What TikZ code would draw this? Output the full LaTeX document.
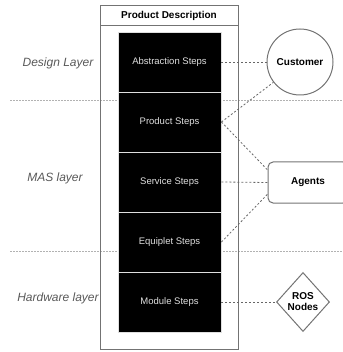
\documentclass[tikz,border=0pt]{standalone}
\usepackage{fontspec}
\setmainfont{Liberation Sans}
\usetikzlibrary{shapes.geometric,calc}
\begin{document}
\begin{tikzpicture}[x=1pt,y=-1pt,
  stepbox/.style={fill=black,draw=gray!25,line width=0.9pt,minimum width=103pt,minimum height=60pt,inner sep=0pt,text=white!88!black,font=\fontsize{9.5}{11}\selectfont},
  layerlabel/.style={font=\fontsize{12}{14}\selectfont\itshape,text=black!65},
  conn/.style={draw=black!60,line width=0.8pt,dash pattern=on 2pt off 2pt},
  layerline/.style={draw=black!30,line width=0.8pt,dash pattern=on 1.5pt off 1.5pt},
  framebox/.style={draw=black!55,line width=1pt}]
\useasboundingbox (0,0) rectangle (342,352);
% layer separators
\coordinate (l1a) at (10,100); \coordinate (l1b) at (342,100);
\coordinate (l2a) at (10,251); \coordinate (l2b) at (342,251);
\draw[layerline] (l1a) -- (l1b);
\draw[layerline] (l2a) -- (l2b);
% outer frame
\node[framebox,minimum width=138pt,minimum height=343pt,inner sep=0pt] (outer) at (169,177.5) {};
\node[framebox,minimum width=138pt,minimum height=20pt,inner sep=0pt,font=\fontsize{10}{12}\selectfont\bfseries] (head) at (169,16) {Product Description};
% steps
\node[stepbox] (abs) at (169.5,62) {Abstraction Steps};
\node[stepbox] (prod) at (169.5,122) {Product Steps};
\node[stepbox] (serv) at (169.5,182) {Service Steps};
\node[stepbox] (equ) at (169.5,242) {Equiplet Steps};
\node[stepbox] (mod) at (169.5,302) {Module Steps};
% right nodes
\node[circle,framebox,minimum size=66pt,inner sep=0pt,font=\fontsize{10}{12}\selectfont\bfseries] (cust) at (300,62) {Customer};
\node[framebox,rounded corners=5pt,minimum width=80pt,minimum height=41pt,inner sep=0pt,font=\fontsize{10}{12}\selectfont\bfseries] (agents) at (308,182.5) {Agents};
\node[diamond,framebox,minimum width=53pt,minimum height=59pt,inner sep=0pt,align=center,font=\fontsize{10}{11}\selectfont\bfseries] (ros) at (303,302) {ROS\\Nodes};
% layer labels
\node[layerlabel] (dl) at (58,63) {Design Layer};
\node[layerlabel] (ml) at (55,178) {MAS layer};
\node[layerlabel] (hl) at (58,298) {Hardware layer};
% connectors
\draw[conn] (abs.east) -- (cust.west);
\draw[conn] (prod.east) -- (cust);
\draw[conn] (prod.east) -- ($(agents.north west)!0.2!(agents.south west)$);
\draw[conn] (serv.east) -- (agents.west);
\draw[conn] (equ.east) -- ($(agents.north west)!0.78!(agents.south west)$);
\draw[conn] (mod.east) -- (ros.west);
\end{tikzpicture}
\end{document}
